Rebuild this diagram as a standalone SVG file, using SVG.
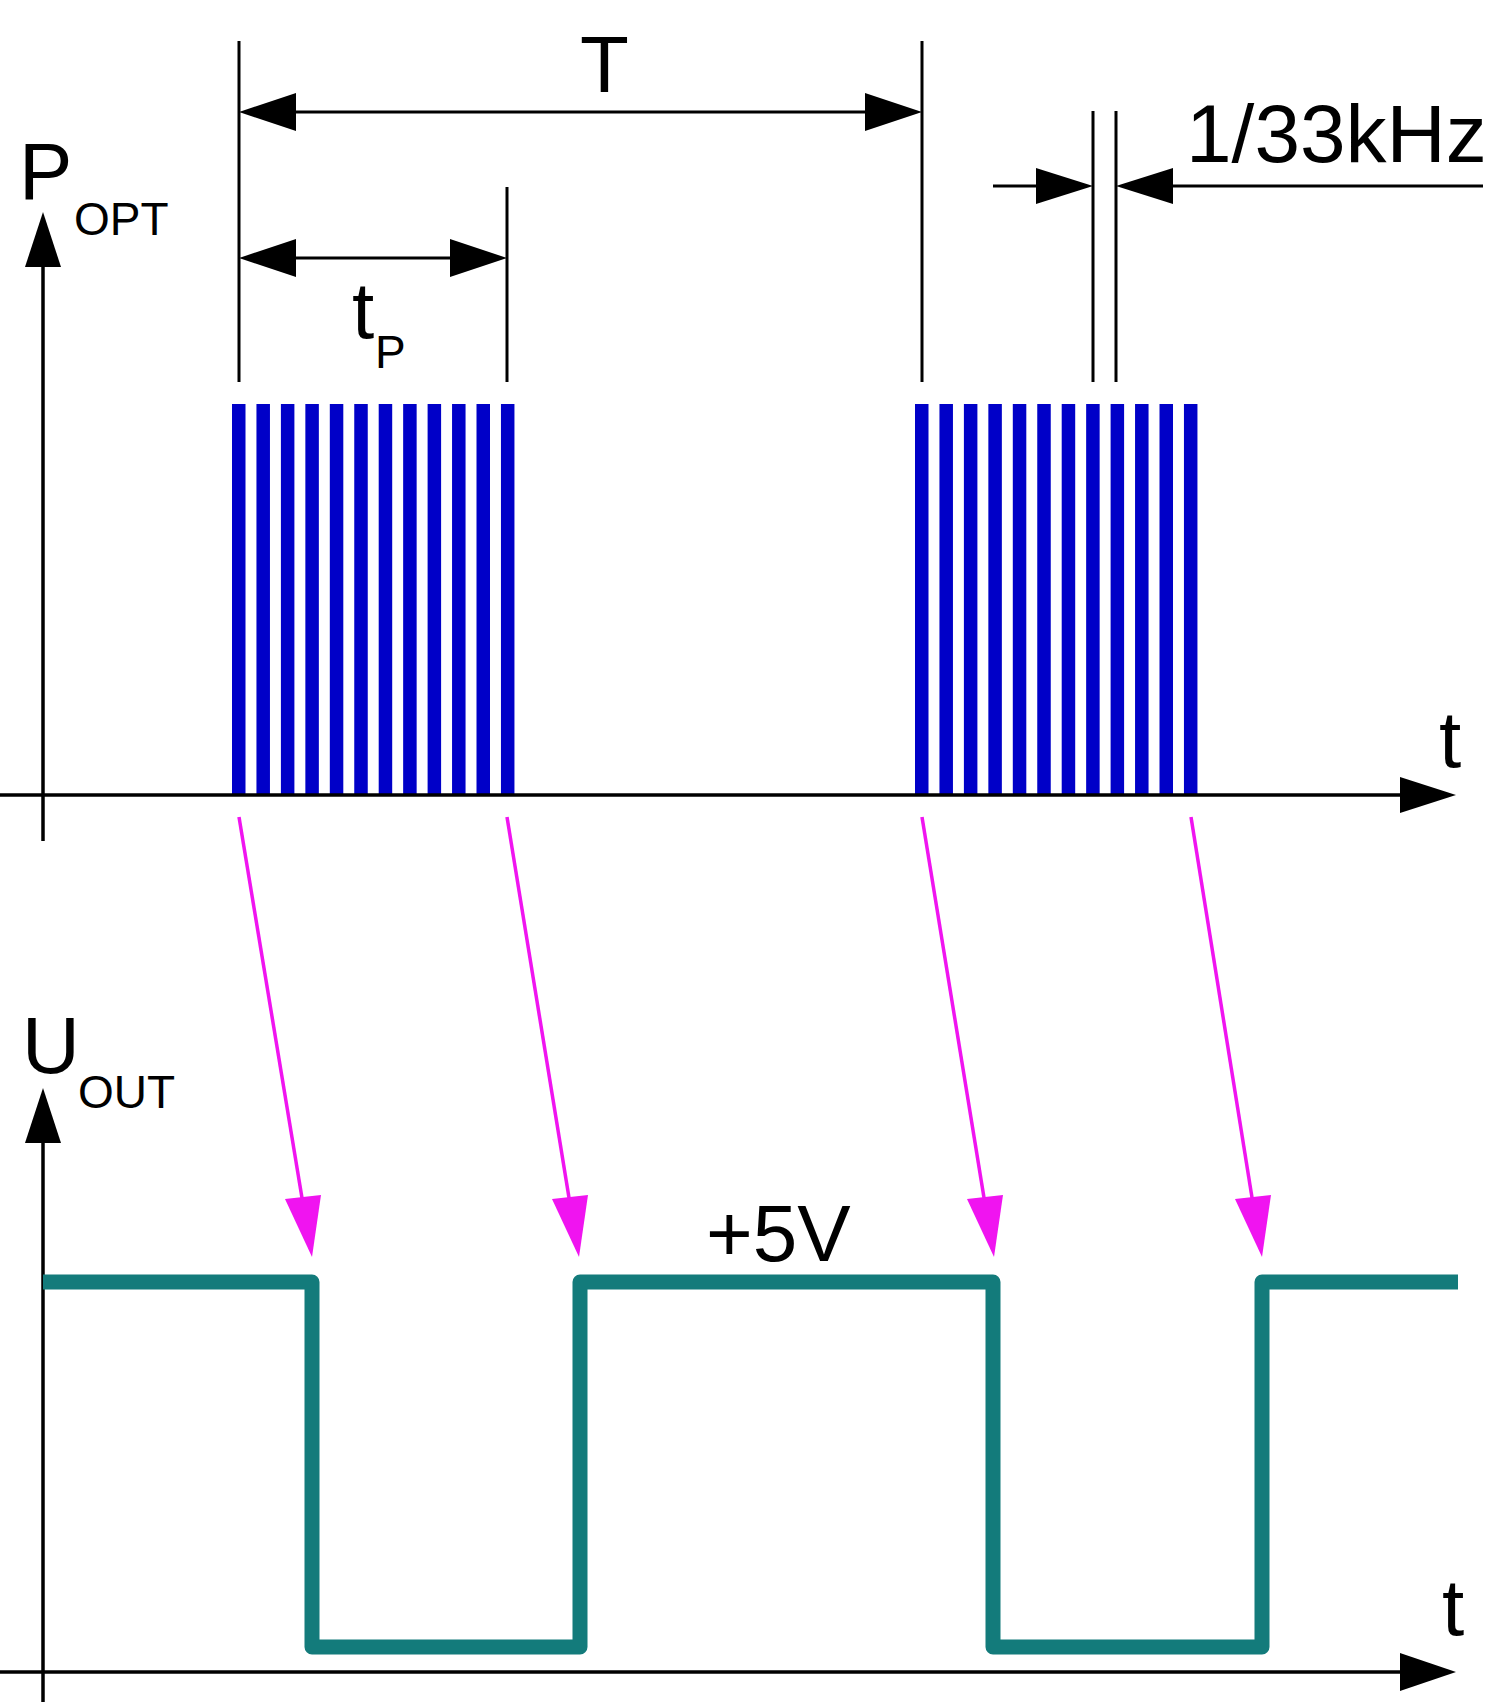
<svg xmlns="http://www.w3.org/2000/svg" width="1504" height="1702" viewBox="0 0 1504 1702">
<style>
.txt{font-family:"Liberation Sans",Arial,sans-serif;fill:#000}
.big{font-size:80px}
.sub{font-size:46px}
.ln{stroke:#000;stroke-width:3.5;fill:none}
.dim{stroke:#000;stroke-width:3;fill:none}
.ah{fill:#000}
.bar{fill:#0000c8}
.mg{stroke:#f014f0;stroke-width:3.5;fill:none}
.mgh{fill:#f014f0}
.wave{stroke:#137b7b;stroke-width:15;fill:none;stroke-linejoin:round;stroke-linecap:butt}
</style>
<rect width="1504" height="1702" fill="#fff"/>

<g id="burst1">
<rect class="bar" x="232" y="404" width="13.5" height="390"/>
<rect class="bar" x="256.45" y="404" width="13.5" height="390"/>
<rect class="bar" x="280.9" y="404" width="13.5" height="390"/>
<rect class="bar" x="305.35" y="404" width="13.5" height="390"/>
<rect class="bar" x="329.8" y="404" width="13.5" height="390"/>
<rect class="bar" x="354.25" y="404" width="13.5" height="390"/>
<rect class="bar" x="378.7" y="404" width="13.5" height="390"/>
<rect class="bar" x="403.15" y="404" width="13.5" height="390"/>
<rect class="bar" x="427.6" y="404" width="13.5" height="390"/>
<rect class="bar" x="452.05" y="404" width="13.5" height="390"/>
<rect class="bar" x="476.5" y="404" width="13.5" height="390"/>
<rect class="bar" x="500.95" y="404" width="13.5" height="390"/>
</g>
<g id="burst2">
<rect class="bar" x="915" y="404" width="13.5" height="390"/>
<rect class="bar" x="939.45" y="404" width="13.5" height="390"/>
<rect class="bar" x="963.9" y="404" width="13.5" height="390"/>
<rect class="bar" x="988.35" y="404" width="13.5" height="390"/>
<rect class="bar" x="1012.8" y="404" width="13.5" height="390"/>
<rect class="bar" x="1037.25" y="404" width="13.5" height="390"/>
<rect class="bar" x="1061.7" y="404" width="13.5" height="390"/>
<rect class="bar" x="1086.15" y="404" width="13.5" height="390"/>
<rect class="bar" x="1110.6" y="404" width="13.5" height="390"/>
<rect class="bar" x="1135.05" y="404" width="13.5" height="390"/>
<rect class="bar" x="1159.5" y="404" width="13.5" height="390"/>
<rect class="bar" x="1183.95" y="404" width="13.5" height="390"/>
</g>

<g id="axes-top">
<line class="ln" x1="0" y1="795" x2="1402" y2="795"/>
<polygon class="ah" points="1456,795 1400,777 1400,813"/>
<line class="ln" x1="43" y1="841" x2="43" y2="264"/>
<polygon class="ah" points="43,212 25,267 61,267"/>
<text class="txt big" x="19" y="199">P</text>
<text class="txt sub" x="74" y="235">OPT</text>
<text class="txt big" x="1439" y="767">t</text>
</g>

<g id="dimensions">
<line class="dim" x1="239" y1="41" x2="239" y2="382"/>
<line class="dim" x1="922" y1="41" x2="922" y2="382"/>
<line class="dim" x1="507" y1="187" x2="507" y2="382"/>
<line class="dim" x1="1093" y1="111" x2="1093" y2="382"/>
<line class="dim" x1="1116" y1="111" x2="1116" y2="382"/>
<line class="dim" x1="290" y1="112" x2="870" y2="112"/>
<polygon class="ah" points="239,112 296,93 296,131"/>
<polygon class="ah" points="922,112 865,93 865,131"/>
<line class="dim" x1="290" y1="258" x2="455" y2="258"/>
<polygon class="ah" points="239,258 296,239 296,277"/>
<polygon class="ah" points="507,258 450,239 450,277"/>
<line class="dim" x1="993" y1="186" x2="1040" y2="186"/>
<polygon class="ah" points="1093,186 1036,168 1036,204"/>
<line class="dim" x1="1170" y1="186" x2="1483" y2="186"/>
<polygon class="ah" points="1116,186 1173,168 1173,204"/>
<text class="txt big" x="580" y="92">T</text>
<text class="txt big" x="352" y="338">t</text>
<text class="txt sub" x="375" y="368">P</text>
<text class="txt big" x="1186" y="162" style="font-size:82px">1/33kHz</text>
</g>

<g id="connectors">
<line class="mg" x1="239" y1="817" x2="304" y2="1210"/>
<polygon class="mgh" points="312,1257 285,1199 321,1195"/>
<line class="mg" x1="507" y1="817" x2="571" y2="1210"/>
<polygon class="mgh" points="579,1257 552,1199 588,1195"/>
<line class="mg" x1="922" y1="817" x2="986" y2="1210"/>
<polygon class="mgh" points="994,1257 967,1199 1003,1195"/>
<line class="mg" x1="1191" y1="817" x2="1254" y2="1210"/>
<polygon class="mgh" points="1262,1257 1235,1199 1271,1195"/>
</g>

<g id="axes-bottom">
<line class="ln" x1="0" y1="1672" x2="1402" y2="1672"/>
<polygon class="ah" points="1456,1672 1400,1653 1400,1691"/>
<line class="ln" x1="43" y1="1702" x2="43" y2="1140"/>
<polygon class="ah" points="43,1088 25,1143 61,1143"/>
<text class="txt big" x="22" y="1073">U</text>
<text class="txt sub" x="78" y="1108">OUT</text>
<text class="txt big" x="1442" y="1635">t</text>
<text class="txt big" x="706" y="1261">+5V</text>
</g>

<g id="waveform">
<path class="wave" d="M43,1282 H312 V1647 H580 V1282 H993 V1647 H1262 V1282 H1458"/>
</g>
</svg>
